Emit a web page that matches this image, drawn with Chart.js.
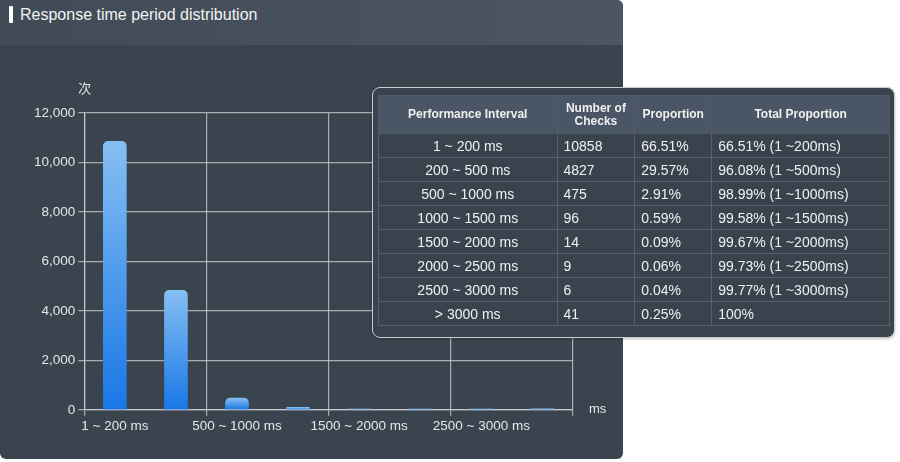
<!DOCTYPE html>
<html>
<head>
<meta charset="utf-8">
<script src="https://cdn.jsdelivr.net/npm/chart.js@4.4.1/dist/chart.umd.min.js"></script>
<style>
  html, body { margin: 0; padding: 0; background: #fff; width: 900px; height: 462px; overflow: hidden; font-family: "Liberation Sans", Arial, sans-serif; }
  .panel { position: absolute; left: 0; top: 0; width: 623px; height: 459px; background: #3a444f; border-radius: 0 6px 6px 6px; overflow: hidden; }
  .head { position: absolute; left: 0; top: 0; width: 623px; height: 45px; background: linear-gradient(90deg, #414b57, #4b5662); }
  .head .mark { position: absolute; left: 9px; top: 6px; width: 4px; height: 17px; background: #fff; border-radius: 1px; }
  .head .title { position: absolute; left: 20px; top: 5px; color: #f2f2f2; font-size: 16px; line-height: 20px; }
  .chartbox { position: absolute; left: 0; top: 45px; width: 623px; height: 414px; }
  .tip { position: absolute; left: 372px; top: 87px; width: 521px; height: 249px; background: #39434e; border: 1.5px solid #c9ced3; border-radius: 8px; box-shadow: 0 1px 3px rgba(0,0,0,0.25); }
  table { position: absolute; left: 5px; top: 7px; width: 512px; border-collapse: collapse; color: #f0f0f0; }
  th { background: #4a5565; font-size: 12px; font-weight: bold; height: 37px; padding: 0 3px; line-height: 13px; border: 1px solid #4f5a66; }
  td { font-size: 14px; height: 23px; padding: 0 6px; border: 1px solid #56616c; white-space: nowrap; }
  td.c { text-align: center; }
</style>
</head>
<body>
<div class="panel">
  <div class="head"><div class="mark"></div><div class="title">Response time period distribution</div></div>
  <div class="chartbox"><canvas id="c"></canvas></div>
</div>
<div class="tip">
  <table id="t">
    <colgroup><col style="width:179px"><col style="width:78px"><col style="width:77px"><col style="width:178px"></colgroup>
  </table>
</div>
<script>
const categories = ['1 ~ 200 ms', '200 ~ 500 ms', '500 ~ 1000 ms', '1000 ~ 1500 ms', '1500 ~ 2000 ms', '2000 ~ 2500 ms', '2500 ~ 3000 ms', '> 3000 ms'];
const checks = [10858, 4827, 475, 96, 14, 9, 6, 41];
const proportions = ['66.51%', '29.57%', '2.91%', '0.59%', '0.09%', '0.06%', '0.04%', '0.25%'];
const totals = ['66.51% (1 ~200ms)', '96.08% (1 ~500ms)', '98.99% (1 ~1000ms)', '99.58% (1 ~1500ms)', '99.67% (1 ~2000ms)', '99.73% (1 ~2500ms)', '99.77% (1 ~3000ms)', '100%'];
const headers = ['Performance Interval', 'Number of<br>Checks', 'Proportion', 'Total Proportion'];
const yTicks = [0, 2000, 4000, 6000, 8000, 10000, 12000];

// table overlay
const t = document.getElementById('t');
let html = '<tr>' + headers.map(h => '<th>' + h + '</th>').join('') + '</tr>';
categories.forEach((c, i) => {
  html += '<tr><td class="c">' + c.replace('>', '&gt;') + '</td><td>' + checks[i] + '</td><td>' + proportions[i] + '</td><td>' + totals[i] + '</td></tr>';
});
t.insertAdjacentHTML('beforeend', html);

const gridColor = 'rgba(205,208,212,0.75)';
const tickFont = { family: '"Liberation Sans", Arial, sans-serif', size: 13.5 };

// unit labels: 次 above y axis, ms after x axis
const unitLabels = {
  id: 'unitLabels',
  afterDraw(chart) {
    const { ctx, chartArea } = chart;
    ctx.save();
    ctx.fillStyle = '#e4e6e8';
    ctx.font = '13px "Liberation Sans", "Noto Sans CJK SC", sans-serif';
    ctx.textBaseline = 'middle';
    ctx.textAlign = 'left';
    ctx.fillText('次', chartArea.left - 6, chartArea.top - 24);
    ctx.fillText('ms', chartArea.right + 16, chartArea.bottom);
    ctx.restore();
  }
};

new Chart(document.getElementById('c'), {
  type: 'bar',
  data: {
    labels: categories,
    datasets: [{
      data: checks,
      barThickness: 23,
      borderRadius: { topLeft: 5, topRight: 5 },
      borderSkipped: 'bottom',
      backgroundColor(context) {
        const chart = context.chart;
        if (!chart.chartArea || context.raw == null) return '#1a7be9';
        const y = chart.scales.y;
        const top = y.getPixelForValue(context.raw);
        const bottom = y.getPixelForValue(0);
        const g = chart.ctx.createLinearGradient(0, top, 0, Math.max(bottom, top + 1));
        g.addColorStop(0, '#86bff3');
        g.addColorStop(1, '#1877e6');
        return g;
      }
    }]
  },
  options: {
    responsive: true,
    maintainAspectRatio: false,
    animation: false,
    layout: { padding: { left: 31, right: 50, top: 68, bottom: 23 } },
    plugins: { legend: { display: false }, tooltip: { enabled: false } },
    scales: {
      x: {
        grid: {
          offset: true,
          color: c => (c.index !== undefined && c.index % 2 === 1) ? 'transparent' : gridColor,
          tickLength: 6,
          lineWidth: 1.2
        },
        border: { color: gridColor, width: 1.2 },
        ticks: {
          autoSkip: false,
          maxRotation: 0,
          color: '#e4e6e8',
          font: tickFont,
          padding: 2,
          callback(v, i) { return i % 2 === 0 ? categories[i] : ''; }
        }
      },
      y: {
        min: yTicks[0],
        max: yTicks[yTicks.length - 1],
        afterBuildTicks(scale) { scale.ticks = yTicks.map(v => ({ value: v })); },
        grid: { color: gridColor, tickLength: 6, lineWidth: 1.2 },
        border: { color: gridColor, width: 1.2 },
        ticks: { color: '#e4e6e8', font: tickFont, padding: 3 }
      }
    }
  },
  plugins: [unitLabels]
});
</script>
</body>
</html>
